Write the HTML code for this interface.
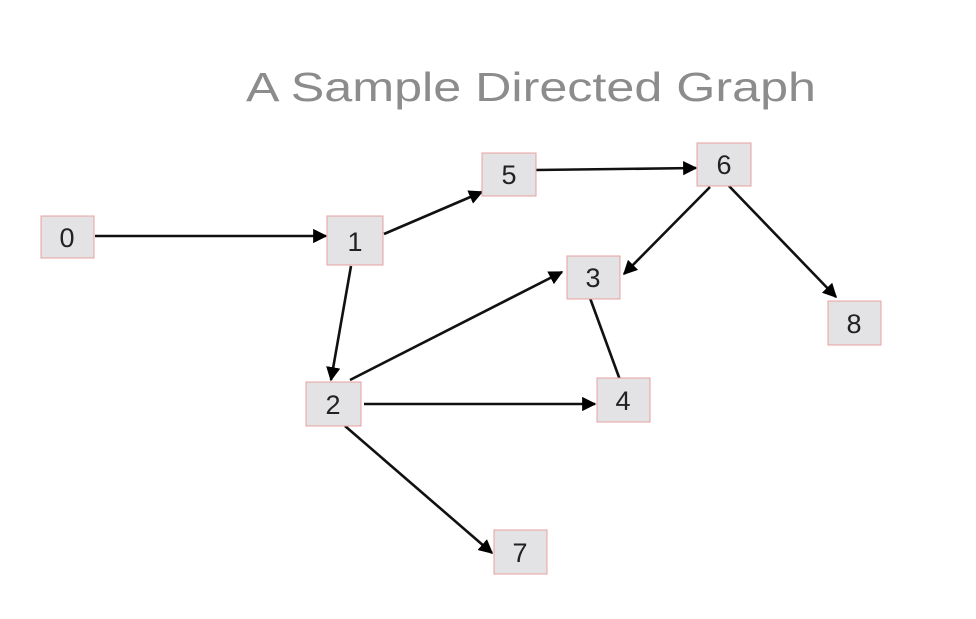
<!DOCTYPE html>
<html><head><style>
body{margin:0;width:976px;height:619px;background:#fff;overflow:hidden}
svg{display:block}
</style></head><body>
<svg width="976" height="619" viewBox="0 0 976 619" xmlns="http://www.w3.org/2000/svg">
<defs><marker id="a" viewBox="0 0 10 10" refX="9" refY="5" markerWidth="5.5" markerHeight="5.5" orient="auto"><path d="M0,0L10,5L0,10z" fill="#000"/></marker></defs>
<text x="531" y="101" text-anchor="middle" font-family="Liberation Sans, sans-serif" font-size="41" fill="#8c8c8c" textLength="570" lengthAdjust="spacingAndGlyphs">A Sample Directed Graph</text>
<g stroke="#111" stroke-width="2.6" fill="none" marker-end="url(#a)">
<line x1="95" y1="236" x2="326" y2="236"/>
<line x1="384" y1="234" x2="482" y2="192"/>
<line x1="536" y1="170" x2="696" y2="168"/>
<line x1="710" y1="187" x2="624" y2="274"/>
<line x1="729" y1="186" x2="836" y2="297"/>
<line x1="351" y1="266" x2="331" y2="380"/>
<line x1="350" y1="380" x2="562" y2="272"/>
<line x1="364" y1="404" x2="595" y2="404"/>
<line x1="345" y1="426" x2="492" y2="553"/>
</g>
<line x1="590" y1="298" x2="620" y2="380" stroke="#111" stroke-width="2.6"/>
<g fill="#e3e2e4" stroke="#e8a0a0" stroke-width="1">
<rect x="41" y="216" width="53" height="42"/>
<rect x="327" y="216" width="56" height="49"/>
<rect x="306" y="382" width="55" height="44"/>
<rect x="482" y="153" width="54" height="43"/>
<rect x="697" y="143" width="54" height="43"/>
<rect x="567" y="256" width="53" height="43"/>
<rect x="828" y="301" width="53" height="44"/>
<rect x="597" y="378" width="53" height="44"/>
<rect x="494" y="530" width="53" height="44"/>
</g>
<g font-family="Liberation Sans, sans-serif" font-size="27" fill="#222" text-anchor="middle">
<text x="67" y="247">0</text>
<text x="355" y="251">1</text>
<text x="333" y="414">2</text>
<text x="509" y="184">5</text>
<text x="724" y="174">6</text>
<text x="593" y="287">3</text>
<text x="854" y="333">8</text>
<text x="623" y="410">4</text>
<text x="520" y="562">7</text>
</g>
</svg>
</body></html>
